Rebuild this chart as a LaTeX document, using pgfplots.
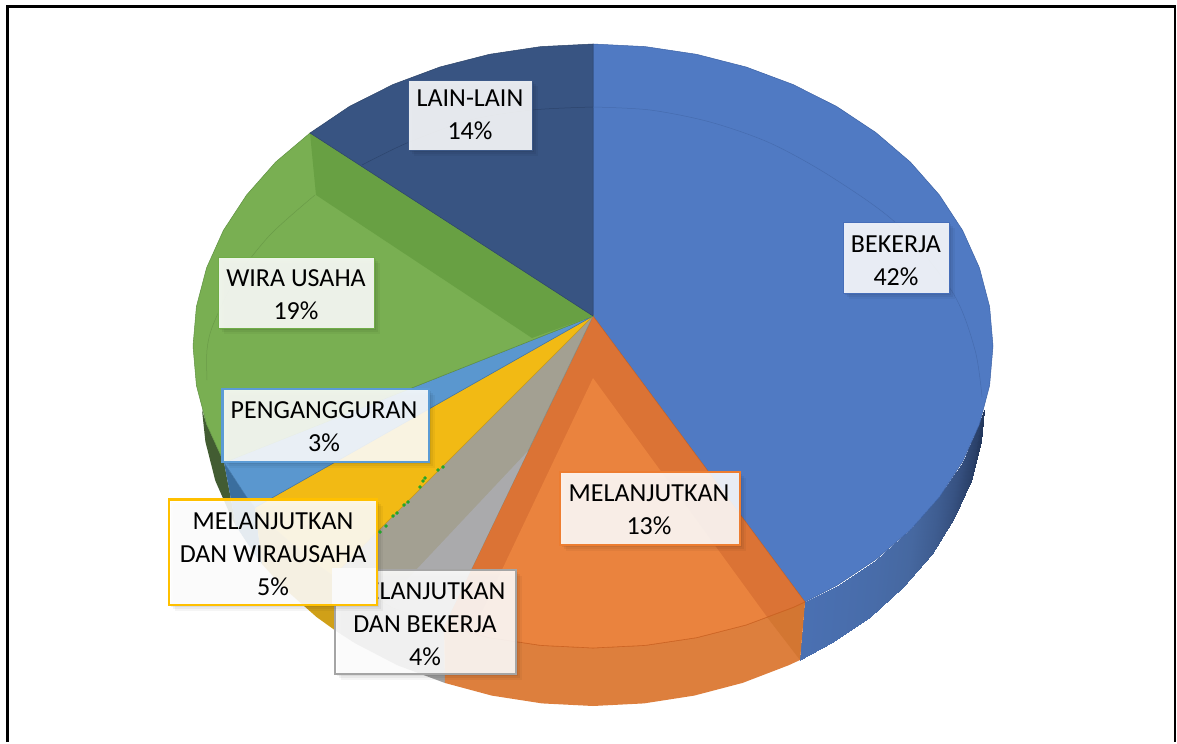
\documentclass[border=0pt]{standalone}
\usepackage{fontspec}
\setmainfont{Carlito}
\usepackage{pgfplots}
\pgfplotsset{compat=1.18}
\definecolor{bBlue}{RGB}{91,155,213}
\definecolor{bOrange}{RGB}{237,125,49}
\definecolor{bGray}{RGB}{165,165,165}
\definecolor{bYellow}{RGB}{255,192,0}
\definecolor{bNavy}{RGB}{60,88,135}
\definecolor{bMid}{RGB}{70,110,185}
\definecolor{bGreen}{RGB}{112,173,71}
\definecolor{sGreen}{RGB}{66,92,50}
\newcommand{\lbl}[9]{%
  \fill[black,fill opacity=.06,xshift=2pt,yshift=-2pt] (axis cs:#1,#2) rectangle (axis cs:#3,#4);
  \fill[black,fill opacity=.05,xshift=4pt,yshift=-4pt] (axis cs:#1,#2) rectangle (axis cs:#3,#4);
  \fill[black,fill opacity=.04,xshift=6pt,yshift=-6pt] (axis cs:#1,#2) rectangle (axis cs:#3,#4);
  \fill[white,fill opacity=.88] (axis cs:#1,#2) rectangle (axis cs:#3,#4);
  \draw[#5,line width=#6] (axis cs:#1,#2) rectangle (axis cs:#3,#4);
  \node[font=\fontsize{26}{33}\selectfont,align=center,inner sep=0pt,text=black] at (axis cs:#7,#8) {#9};
}
\begin{document}
\begin{tikzpicture}
\begin{axis}[
  scale only axis,width=1177pt,height=742pt,
  xmin=0,xmax=1177,ymin=0,ymax=742,y dir=reverse,
  hide axis,clip=false,
  point meta min=0,point meta max=1,
  colormap={sideblue}{rgb255(0)=(74,112,178) rgb255(4)=(70,104,160) rgb255(7)=(55,82,130) rgb255(10)=(35,55,92)}]
\path (axis cs:0,0) rectangle (axis cs:1177,742);
% frame
\addplot[black,line width=2.4pt] coordinates {(7.5,742)(7.5,6.5)(1175,6.5)(1175,742)};
% --- side walls
\addplot[fill=sGreen,draw=none] coordinates {(202,410)(206.6,424.2)(224,462.5)(236,526)(231.8,518.3)(215.3,480.7)(205.4,441.7)} --cycle;
\addplot[fill={rgb,255:red,58;green,110;blue,158},draw=none] coordinates {(224,462.5)(246.6,497)(255,507.5)(262,564)(254.4,554)(236,526)} --cycle;
\addplot[fill={rgb,255:red,208;green,160;blue,24},draw=none] coordinates {(255,507.5)(275.6,529.9)(310.2,559.5)(333,576)(336,631)(316.5,617)(282.8,587.1)(262,564)} --cycle;
\addplot[fill={rgb,255:red,160;green,160;blue,160},draw=none] coordinates {(333,576)(349.5,585.6)(393,607.5)(439.9,625)(444,626)(445,683)(397.5,665.3)(355,643.2)(336,631)} --cycle;
\addplot[fill={rgb,255:red,221;green,127;blue,61},draw=none] coordinates {(444,626)(489.5,637.7)(540.8,645.4)(593,648)(645.2,645.4)(696.5,637.7)(746.1,625)(793,607.5)(805,602)(800,660)(788.5,665.3)(742.6,682.9)(694.2,695.6)(644,703.4)(593,706)(542,703.4)(491.8,695.6)(445,683)} --cycle;
% blue side wall, shaded
\addplot[patch,patch type=rectangle,shader=interp,point meta=explicit] coordinates {
 (805,602) [0] (836.5,585.6) [.08] (831,643.2) [.08] (800,660) [0]
 (836.5,585.6) [.08] (875.8,559.5) [.2] (869.5,617) [.2] (831,643.2) [.08]
 (875.8,559.5) [.2] (910.4,529.9) [.38] (903.2,587.1) [.38] (869.5,617) [.2]
 (910.4,529.9) [.38] (939.4,497) [.55] (931.6,554) [.55] (903.2,587.1) [.38]
 (939.4,497) [.55] (962.6,461.6) [.75] (954.2,518.3) [.75] (931.6,554) [.55]
 (962.6,461.6) [.75] (979.4,424.2) [.9] (970.7,480.7) [.9] (954.2,518.3) [.75]
 (979.4,424.2) [.9] (984,410) [1] (980.6,441.7) [1] (970.7,480.7) [.9]
};
% darker corner of the orange side wall
\addplot[fill={rgb,255:red,211;green,118;blue,50},draw=none] coordinates {(767,617)(805,602)(800,660)} --cycle;
% --- top faces
% BEKERJA 42
\addplot[fill={rgb,255:red,80;green,122;blue,195},draw={rgb,255:red,60;green,98;blue,165},line width=.5pt] coordinates {(593,316)(593,44)(645.2,46.6)(696.5,54.3)(746.1,67)(793,84.5)(836.5,106.4)(875.8,132.5)(910.4,162.1)(939.4,195)(962.6,230.4)(979.4,267.8)(989.6,306.6)(993,346)(989.6,385.4)(979.4,424.2)(962.6,461.6)(939.4,497)(910.4,529.9)(875.8,559.5)(836.5,585.6)(805,602)} --cycle;
% MELANJUTKAN 13
\addplot[fill={rgb,255:red,219;green,115;blue,53},draw={rgb,255:red,200;green,100;blue,40},line width=.5pt] coordinates {(593,316)(805,602)(793,607.5)(746.1,625)(696.5,637.7)(645.2,645.4)(593,648)(540.8,645.4)(489.5,637.7)(444,626)} --cycle;
\addplot[fill={rgb,255:red,234;green,131;blue,62},draw=none] coordinates {(593,378)(767,617)(746.1,625)(696.5,637.7)(645.2,645.4)(593,648)(540.8,645.4)(489.5,637.7)(472,633)} --cycle;
\addplot[draw={rgb,255:red,205;green,100;blue,35},line width=.6pt] coordinates {(444,626)(489.5,637.7)(540.8,645.4)(593,648)(645.2,645.4)(696.5,637.7)(746.1,625)(793,607.5)(805,602)};
% MELANJUTKAN DAN BEKERJA 4
\addplot[fill={rgb,255:red,163;green,160;blue,146},draw={rgb,255:red,140;green,138;blue,125},line width=.5pt] coordinates {(593,316)(444,626)(439.9,625)(393,607.5)(349.5,585.6)(333,576)} --cycle;
\addplot[fill={rgb,255:red,170;green,170;blue,172},draw=none] coordinates {(528,451)(385,603)(393,607.5)(439.9,625)(444,626)} --cycle;
% MELANJUTKAN DAN WIRAUSAHA 5
\addplot[fill={rgb,255:red,242;green,186;blue,20},draw={rgb,255:red,200;green,155;blue,25},line width=.5pt] coordinates {(593,316)(333,576)(310.2,559.5)(275.6,529.9)(255,507.5)} --cycle;
\addplot[only marks,mark=*,mark size=1.5pt,color={rgb,255:red,34;green,165;blue,42}] coordinates {(443,467)(438,470)(425,478)(420,487)(423,481)(408,502)(397,513)(380,532)(393,516)(404,505)(386,526)};
% PENGANGGURAN 3
\addplot[fill={rgb,255:red,90;green,151;blue,207},draw={rgb,255:red,62;green,115;blue,165},line width=.5pt] coordinates {(593,316)(255,507.5)(246.6,497)(224,462.5)} --cycle;
% WIRA USAHA 19
\addplot[fill={rgb,255:red,121;green,175;blue,82},draw={rgb,255:red,95;green,145;blue,65},line width=.5pt] coordinates {(593,316)(224,462.5)(206.6,424.2)(196.4,385.4)(193,346)(196.4,306.6)(206.6,267.8)(223.4,230.4)(246.6,195)(275.6,162.1)(310,133)} --cycle;
\addplot[fill={rgb,255:red,104;green,160;blue,67},draw=none] coordinates {(310,133)(593,316)(532,338)(316,195)} --cycle;
% LAIN-LAIN 14
\addplot[fill={rgb,255:red,56;green,84;blue,130},draw={rgb,255:red,44;green,68;blue,105},line width=.5pt] coordinates {(593,316)(310,133)(349.5,106.4)(393,84.5)(439.9,67)(489.5,54.3)(540.8,46.6)(593,44)} --cycle;
% inner rim lines
\addplot[smooth,draw={rgb,255:red,44;green,68;blue,108},line width=.5pt] coordinates {(362,165)(407,143)(470,120)(532,110)(593,107)};
\addplot[smooth,draw={rgb,255:red,70;green,108;blue,175},line width=.5pt] coordinates {(593,107)(650,110)(710,122)(770,143)(830,176)(897,224)(953,293)(975,350)(982,397)};
\addplot[smooth,draw={rgb,255:red,106;green,155;blue,72},line width=.5pt] coordinates {(315,195)(270,235)(235,280)(213,325)(207,350)(207,380)};
% --- labels
\lbl{408}{80}{532}{150}{bNavy}{.6pt}{470}{115}{LAIN-LAIN\\14\%}
\lbl{843}{222}{949}{293}{bMid}{.6pt}{896}{261}{BEKERJA\\42\%}
\lbl{218}{257}{374}{328}{bGreen}{.6pt}{296}{294.5}{WIRA USAHA\\19\%}
\lbl{222.5}{389}{429}{462}{bBlue}{2.5pt}{324}{427}{PENGANGGURAN\\3\%}
\lbl{560}{472}{740}{545}{bOrange}{2.5pt}{649}{510}{MELANJUTKAN\\13\%}
\lbl{335}{570}{516}{674}{bGray}{2.8pt}{425}{624}{MELANJUTKAN\\DAN BEKERJA\\4\%}
\fill[white] (axis cs:332,568) rectangle (axis cs:378,605);
\lbl{169}{499.5}{377}{605}{bYellow}{2.8pt}{273}{554.5}{MELANJUTKAN\\DAN WIRAUSAHA\\5\%}
\end{axis}
\end{tikzpicture}
\end{document}
